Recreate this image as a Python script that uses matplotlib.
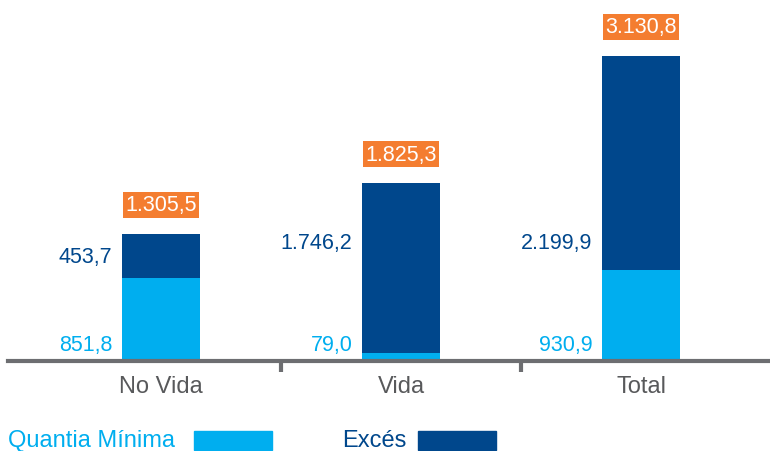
import matplotlib
matplotlib.use("Agg")
import matplotlib.pyplot as plt
from matplotlib.patches import Rectangle

categories = ["No Vida", "Vida", "Total"]
minimum = [851.8, 79.0, 930.9]
excess = [453.7, 1746.2, 2199.9]
totals = [1305.5, 1825.3, 3130.8]

LIGHT = "#00AEEF"
DARK = "#00478C"
ORANGE = "#F47D30"
GREY = "#6D6E71"


def fmt(v):
    s = f"{v:,.1f}"
    return s.replace(",", "X").replace(".", ",").replace("X", ".")


plt.rcParams["font.family"] = ["Liberation Sans", "DejaVu Sans"]

fig = plt.figure(figsize=(7.7, 4.52), dpi=100)
ax = fig.add_axes([8 / 770, 90 / 452, 762 / 770, 362 / 452])

x = list(range(len(categories)))
w = 0.325
ax.bar(x, minimum, width=w, color=LIGHT, zorder=2)
ax.bar(x, excess, width=w, bottom=minimum, color=DARK, zorder=2)

for i in x:
    # total box above bar
    ax.annotate(fmt(totals[i]), (i, totals[i]), xytext=(0, 21), textcoords="offset points",
                ha="center", va="center", color="white", fontsize=15.5,
                bbox=dict(boxstyle="square,pad=0.12", fc=ORANGE, ec="none"))
    # minimum value label near base
    ax.annotate(fmt(minimum[i]), (i - w / 2, 0), xytext=(-7, 4), textcoords="offset points",
                ha="right", va="bottom", color=LIGHT, fontsize=15.5)
    # excess value label
    ye = min(totals[i] - 230, 1220)
    ax.annotate(fmt(excess[i]), (i - w / 2, ye), xytext=(-7, 0), textcoords="offset points",
                ha="right", va="center", color=DARK, fontsize=15.5)

ax.set_xlim(-0.638, 2.537)
ax.set_ylim(0, 3717)
for s in ["top", "right", "left"]:
    ax.spines[s].set_visible(False)
ax.spines["bottom"].set_color(GREY)
ax.spines["bottom"].set_linewidth(3)
ax.set_yticks([])
ax.set_xticks(x)
ax.set_xticklabels(categories, fontsize=17, color="#58595B")
ax.tick_params(axis="x", which="major", length=0, pad=10)
ax.set_xticks([0.5, 1.5], minor=True)
ax.tick_params(axis="x", which="minor", length=8, width=3, color=GREY)

# legend
fig.text(8 / 770, 1 - 441 / 452, "Quantia Mínima", color=LIGHT, fontsize=17, va="center", ha="left")
fig.patches.append(Rectangle((194 / 770, 1 - 451 / 452), 78 / 770, 19 / 452,
                             transform=fig.transFigure, color=LIGHT))
fig.text(342 / 770, 1 - 441 / 452, "Excés", color=DARK, fontsize=17, va="center", ha="left")
fig.patches.append(Rectangle((418 / 770, 1 - 451 / 452), 78 / 770, 19 / 452,
                             transform=fig.transFigure, color=DARK))

fig.savefig("out.png", dpi=100)
